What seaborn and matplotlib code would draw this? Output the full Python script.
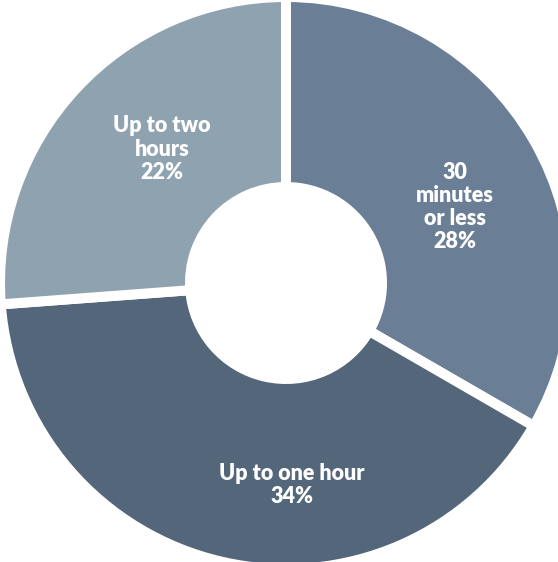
import matplotlib
matplotlib.use("Agg")
import matplotlib.pyplot as plt
import seaborn as sns

categories = ["30\nminutes\nor less", "Up to one hour", "Up to two\nhours"]
values = [28, 34, 22]
pct_labels = ["28%", "34%", "22%"]
colors = ["#6a7e96", "#53667a", "#8fa2b0"]

sns.set_theme(style="white")
plt.rcParams['font.family'] = ['Lato', 'DejaVu Sans']

W, H = 558, 562
fig = plt.figure(figsize=(W / 100, H / 100), dpi=100)
ax = fig.add_axes([0, 0, 1, 1])

cx, cy = 286, H - 283
gap_px = 10
lw = gap_px * 72 / 100
r_out = 281 + gap_px / 2
r_in = 101 - gap_px / 2

wedges, _ = ax.pie(values, colors=colors, startangle=90, counterclock=False,
                   radius=r_out, center=(cx, cy),
                   wedgeprops=dict(width=r_out - r_in, edgecolor="white", linewidth=lw))

label_pos = [(455, 207), (292, 485), (162, 149)]
for (x, y), cat, pct in zip(label_pos, categories, pct_labels):
    ax.text(x, H - y, f"{cat}\n{pct}", ha="center", va="center", color="white",
            fontsize=15.5, fontweight="heavy", linespacing=1.12)

ax.set_xlim(0, W)
ax.set_ylim(0, H)
ax.set_aspect("equal")
ax.axis("off")
fig.savefig("out.png", dpi=100, facecolor="white")
